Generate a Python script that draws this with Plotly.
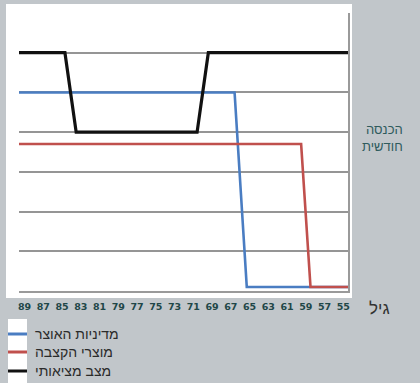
import plotly.graph_objects as go

# ---- data (ages, monthly income index) ----
series_names = ["מדיניות האוצר", "מוצרי הקצבה", "מצב מציאותי"]
series_colors = ["#4a7dc2", "#c0504d", "#111111"]

treasury_age = [90, 66.6, 65.3, 54]
treasury_val = [5, 5, 0.1, 0.1]

annuity_age = [90, 59.5, 58.5, 54]
annuity_val = [3.7, 3.7, 0.1, 0.1]

real_age = [90, 84.7, 83.5, 70.6, 69.4, 54]
real_val = [6, 6, 4, 4, 6, 6]

tick_ages = [89, 87, 85, 83, 81, 79, 77, 75, 73, 71, 69, 67, 65, 63, 61, 59, 57, 55]

y_title = "הכנסה<br>חודשית"
x_title = "גיל"

# ---- layout geometry (pixels) ----
W, H = 420, 383
L, R, T, B = 19, 348, 13, 291


def px(x):
    return (x - L) / (R - L)


def py(y):
    return (B - y) / (B - T)


fig = go.Figure()
for name, color, xs, ys, w in [
    (series_names[0], series_colors[0], treasury_age, treasury_val, 2.6),
    (series_names[1], series_colors[1], annuity_age, annuity_val, 2.6),
    (series_names[2], series_colors[2], real_age, real_val, 3.2),
]:
    fig.add_trace(go.Scatter(x=xs, y=ys, mode="lines", name=name,
                             line=dict(color=color, width=w), showlegend=False))

shapes = [
    # white chart box
    dict(type="rect", xref="paper", yref="paper", layer="below",
         x0=px(6), x1=px(352), y0=py(298), y1=py(4),
         fillcolor="white", line=dict(width=0)),
    # white legend key strip
    dict(type="rect", xref="paper", yref="paper", layer="below",
         x0=px(8), x1=px(27), y0=py(383), y1=py(319),
         fillcolor="white", line=dict(width=0)),
]
annotations = []
legend_y = [334, 352, 371]
for name, color, ly in zip(series_names, series_colors, legend_y):
    shapes.append(dict(type="line", xref="paper", yref="paper",
                       x0=px(8), x1=px(27), y0=py(ly), y1=py(ly),
                       line=dict(color=color, width=3)))
    annotations.append(dict(text=name, xref="paper", yref="paper",
                            x=px(33), y=py(ly), xanchor="left", yanchor="middle",
                            showarrow=False,
                            font=dict(size=14, color="#2b2b2b",
                                      family="Liberation Sans, DejaVu Sans")))

annotations.append(dict(text=y_title, xref="paper", yref="paper",
                        x=px(405), y=py(138), xanchor="right", yanchor="middle",
                        align="right", showarrow=False,
                        font=dict(size=13, color="#2f5b5d",
                                  family="Liberation Sans, DejaVu Sans")))
annotations.append(dict(text=x_title, xref="paper", yref="paper",
                        x=px(367), y=py(308), xanchor="left", yanchor="middle",
                        showarrow=False,
                        font=dict(size=17, color="#333333",
                                  family="Liberation Sans, DejaVu Sans")))

fig.update_layout(
    width=W, height=H, autosize=False,
    margin=dict(l=L, r=W - R, t=T, b=H - B, pad=0),
    paper_bgcolor="#c1c6ca",
    plot_bgcolor="white",
    shapes=shapes,
    annotations=annotations,
    xaxis=dict(range=[89.6, 54.5], tickvals=tick_ages,
               ticktext=[str(a) for a in tick_ages],
               showgrid=False, zeroline=False,
               showline=True, linecolor="#9a9a9a", linewidth=2,
               ticks="outside", ticklen=6, tickcolor="rgba(0,0,0,0)",
               tickfont=dict(size=9.5, color="#1f4748",
                             family="DejaVu Sans", weight="bold")),
    yaxis=dict(range=[0, 7], dtick=1, side="right",
               showticklabels=False, ticks="",
               showgrid=True, gridcolor="#959595", gridwidth=1.7,
               zeroline=False,
               showline=True, linecolor="#9a9a9a", linewidth=2),
)

fig.write_html("out.html")
